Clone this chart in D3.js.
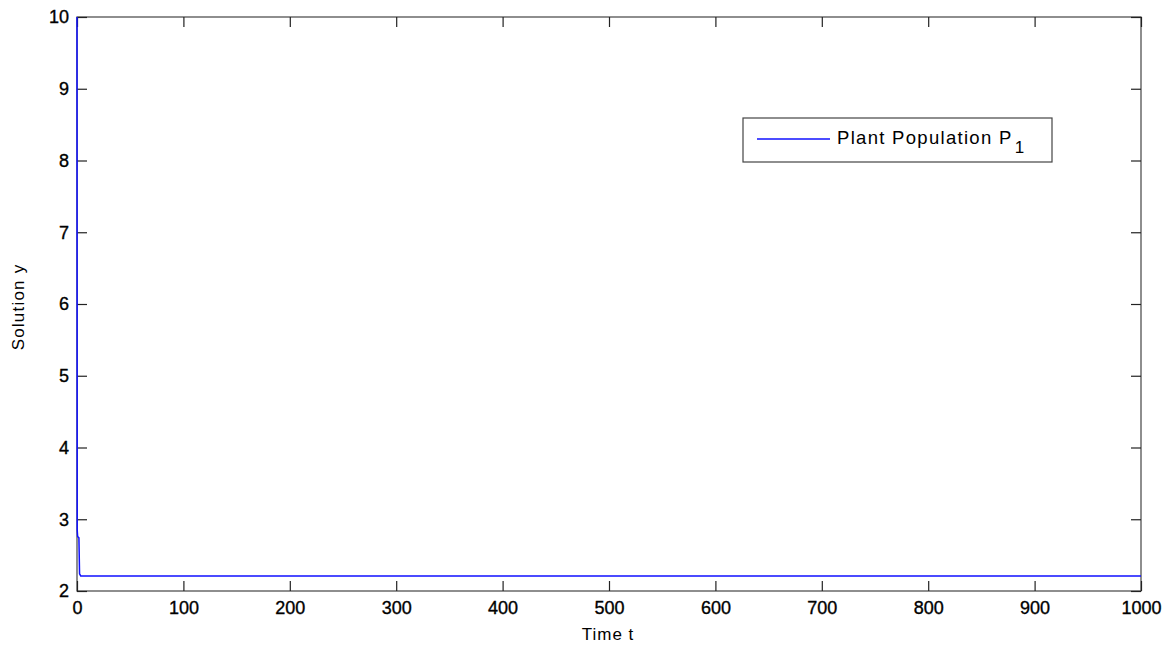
<!DOCTYPE html>
<html>
<head>
<meta charset="utf-8">
<script src="https://cdn.jsdelivr.net/npm/d3@7"></script>
<style>
  html, body { margin: 0; padding: 0; background: #fff; }
  svg { display: block; font-family: "Liberation Sans", Arial, Helvetica, sans-serif; }
</style>
</head>
<body>
<svg id="chart" width="1171" height="646"></svg>
<script>
// Plant population P1 over time
const timeT = [0, 0.2, 0.6, 1.8, 2.4, 3.5, 1000];
const plantP1 = [10, 2.85, 2.76, 2.74, 2.24, 2.21, 2.21];
const xTicks = [0, 100, 200, 300, 400, 500, 600, 700, 800, 900, 1000];
const yTicks = [2, 3, 4, 5, 6, 7, 8, 9, 10];
const seriesName = "Plant Population P";

const svg = d3.select("#chart");
const plotLeft = 77, plotRight = 1141, plotTop = 17, plotBottom = 591;

const x = d3.scaleLinear().domain([0, 1000]).range([plotLeft, plotRight]);
const y = d3.scaleLinear().domain([2, 10]).range([plotBottom, plotTop]);

const axisColor = "#444";
const tickLen = 10;

// frame
svg.append("rect")
  .attr("x", plotLeft).attr("y", plotTop)
  .attr("width", plotRight - plotLeft).attr("height", plotBottom - plotTop)
  .attr("fill", "none").attr("stroke", axisColor).attr("stroke-width", 1.2);

// axes with inward ticks
const xAxisB = svg.append("g").attr("transform", `translate(0,${plotBottom})`)
  .call(d3.axisBottom(x).tickValues(xTicks).tickSizeInner(-tickLen).tickSizeOuter(0).tickPadding(10).tickFormat(d3.format("d")));
const xAxisT = svg.append("g").attr("transform", `translate(0,${plotTop})`)
  .call(d3.axisTop(x).tickValues(xTicks).tickSizeInner(-tickLen).tickSizeOuter(0).tickFormat(""));
const yAxisL = svg.append("g").attr("transform", `translate(${plotLeft},0)`)
  .call(d3.axisLeft(y).tickValues(yTicks).tickSizeInner(-tickLen).tickSizeOuter(0).tickPadding(8).tickFormat(d3.format("d")));
const yAxisR = svg.append("g").attr("transform", `translate(${plotRight},0)`)
  .call(d3.axisRight(y).tickValues(yTicks).tickSizeInner(-tickLen).tickSizeOuter(0).tickFormat(""));

[xAxisB, xAxisT, yAxisL, yAxisR].forEach(g => {
  g.select(".domain").remove();
  g.selectAll(".tick line").attr("stroke", "#222").attr("stroke-width", 1.2);
  g.selectAll(".tick text")
    .attr("fill", "#000")
    .attr("stroke", "#000")
    .attr("stroke-width", 0.35)
    .style("font-size", "18px")
    .style("font-family", "'Liberation Sans', Arial, sans-serif");
});
xAxisB.selectAll(".tick text").attr("dy", "0.71em");

// data line
const line = d3.line().x((d, i) => x(timeT[i])).y(d => y(d));
svg.append("path")
  .datum(plantP1)
  .attr("d", line)
  .attr("fill", "none")
  .attr("stroke", "#1010ff")
  .attr("stroke-width", 1.5);

// axis labels
svg.append("text")
  .attr("x", 608).attr("y", 640)
  .attr("text-anchor", "middle")
  .style("font-size", "17px")
  .style("letter-spacing", "1px")
  .text("Time t");
svg.append("text")
  .attr("transform", "translate(24,307) rotate(-90)")
  .attr("text-anchor", "middle")
  .style("font-size", "17px")
  .style("letter-spacing", "1.2px")
  .text("Solution y");

// legend
const lg = svg.append("g");
lg.append("rect")
  .attr("x", 743).attr("y", 118)
  .attr("width", 309).attr("height", 44)
  .attr("fill", "#fff").attr("stroke", axisColor).attr("stroke-width", 1.2);
lg.append("line")
  .attr("x1", 757).attr("x2", 830).attr("y1", 139).attr("y2", 139)
  .attr("stroke", "#1010ff").attr("stroke-width", 1.3);
const lt = lg.append("text")
  .attr("x", 837).attr("y", 144)
  .style("font-size", "18.5px")
  .style("letter-spacing", "1.3px");
lt.append("tspan").text(seriesName);
lt.append("tspan").attr("dx", 2).attr("dy", 9).style("font-size", "17px").text("1");
</script>
</body>
</html>
